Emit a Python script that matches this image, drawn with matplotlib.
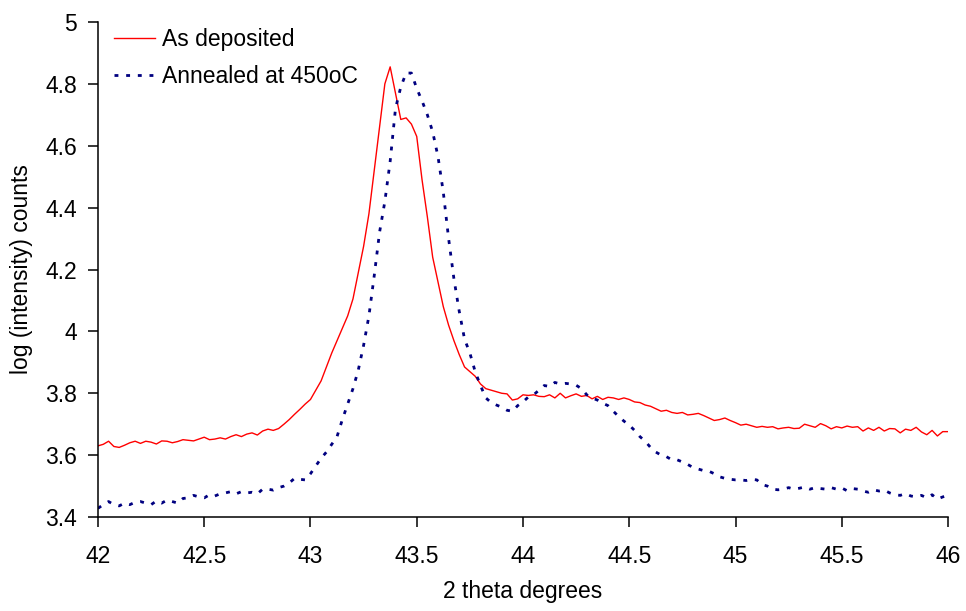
# Import modules
import numpy as np
import matplotlib
matplotlib.use("Agg")
import matplotlib.pyplot as plt
from matplotlib.ticker import FuncFormatter, MultipleLocator

plt.rcParams['font.family'] = ['Liberation Sans', 'DejaVu Sans']

# 2 theta values, one reading every 0.025 degrees from 42 to 46
two_theta = np.linspace(42, 46, 161)

# log (intensity) counts, as deposited (rows of 8 readings = 0.2 degrees)
as_deposited = [
    3.630, 3.635, 3.645, 3.628, 3.625, 3.632, 3.640, 3.645,
    3.638, 3.645, 3.642, 3.636, 3.646, 3.645, 3.640, 3.644,
    3.650, 3.648, 3.646, 3.652, 3.658, 3.650, 3.652, 3.656,
    3.652, 3.660, 3.666, 3.660, 3.668, 3.672, 3.665, 3.678,
    3.684, 3.680, 3.686, 3.700, 3.715, 3.732, 3.748, 3.765,
    3.780, 3.810, 3.840, 3.885, 3.930, 3.970, 4.010, 4.050,
    4.105, 4.190, 4.275, 4.380, 4.520, 4.660, 4.800, 4.855,
    4.770, 4.685, 4.690, 4.670, 4.630, 4.490, 4.370, 4.240,
    4.160, 4.080, 4.020, 3.970, 3.925, 3.885, 3.870, 3.855,
    3.830, 3.815, 3.810, 3.805, 3.800, 3.798, 3.778, 3.782,
    3.795, 3.793, 3.795, 3.790, 3.789, 3.795, 3.785, 3.800,
    3.785, 3.792, 3.798, 3.790, 3.793, 3.782, 3.790, 3.780,
    3.787, 3.785, 3.780, 3.785, 3.780, 3.772, 3.770, 3.762,
    3.758, 3.750, 3.742, 3.745, 3.738, 3.735, 3.738, 3.730,
    3.732, 3.735, 3.728, 3.720, 3.712, 3.715, 3.720, 3.712,
    3.705, 3.697, 3.700, 3.695, 3.690, 3.693, 3.690, 3.692,
    3.685, 3.688, 3.690, 3.686, 3.687, 3.700, 3.695, 3.690,
    3.702, 3.695, 3.685, 3.692, 3.688, 3.694, 3.690, 3.692,
    3.678, 3.688, 3.680, 3.690, 3.678, 3.686, 3.685, 3.672,
    3.684, 3.680, 3.690, 3.675, 3.666, 3.680, 3.662, 3.676,
    3.676,
]

# log (intensity) counts, annealed at 450oC
annealed = [
    3.428, 3.440, 3.450, 3.440, 3.436, 3.445, 3.440, 3.448,
    3.450, 3.445, 3.440, 3.452, 3.445, 3.455, 3.450, 3.445,
    3.460, 3.462, 3.470, 3.465, 3.462, 3.472, 3.468, 3.475,
    3.478, 3.482, 3.475, 3.482, 3.478, 3.480, 3.475, 3.490,
    3.490, 3.487, 3.495, 3.500, 3.510, 3.525, 3.522, 3.520,
    3.540, 3.565, 3.590, 3.610, 3.635, 3.660, 3.715, 3.765,
    3.815, 3.875, 3.955, 4.050, 4.180, 4.320, 4.420, 4.550,
    4.720, 4.790, 4.835, 4.835, 4.785, 4.745, 4.700, 4.645,
    4.565, 4.450, 4.300, 4.170, 4.065, 3.975, 3.930, 3.870,
    3.825, 3.785, 3.770, 3.762, 3.755, 3.745, 3.742, 3.760,
    3.772, 3.788, 3.795, 3.810, 3.825, 3.822, 3.835, 3.830,
    3.832, 3.830, 3.826, 3.815, 3.795, 3.785, 3.778, 3.768,
    3.760, 3.742, 3.725, 3.710, 3.697, 3.680, 3.660, 3.645,
    3.625, 3.610, 3.600, 3.595, 3.585, 3.585, 3.578, 3.570,
    3.560, 3.555, 3.550, 3.548, 3.540, 3.530, 3.525, 3.522,
    3.520, 3.520, 3.518, 3.522, 3.520, 3.505, 3.500, 3.490,
    3.488, 3.490, 3.495, 3.490, 3.493, 3.497, 3.490, 3.495,
    3.492, 3.490, 3.495, 3.490, 3.494, 3.485, 3.492, 3.490,
    3.484, 3.480, 3.488, 3.484, 3.487, 3.478, 3.472, 3.470,
    3.476, 3.468, 3.465, 3.470, 3.462, 3.472, 3.458, 3.465,
    3.470,
]

fig = plt.figure(figsize=(9.66, 6.11), dpi=100)
ax = fig.add_axes([0.1014, 0.1538, 0.88, 0.8102])

# Plot both scans
ax.plot(two_theta, as_deposited, color="#FF0000", linewidth=1.0, label="As deposited")
ax.plot(two_theta, annealed, color="#000080", linewidth=2.0,
        linestyle=(0, (1.4, 2.8)), dash_capstyle="butt", label="Annealed at 450oC")

# Axes limits and ticks
ax.set_xlim(42, 46)
ax.set_ylim(3.4, 5)
ax.xaxis.set_major_locator(MultipleLocator(0.5))
ax.yaxis.set_major_locator(MultipleLocator(0.2))
fmt = FuncFormatter(lambda v, pos: "%g" % round(v, 2))
ax.xaxis.set_major_formatter(fmt)
ax.yaxis.set_major_formatter(fmt)
ax.tick_params(axis="both", direction="out", length=7, width=1.1, labelsize=16.5, colors="black")
ax.tick_params(axis="x", pad=13)
ax.tick_params(axis="y", pad=8)

# Only left and bottom spines
ax.spines["top"].set_visible(False)
ax.spines["right"].set_visible(False)
ax.spines["left"].set_linewidth(1.1)
ax.spines["bottom"].set_linewidth(1.1)

ax.set_xlabel("2 theta degrees", fontsize=16.5, labelpad=9)
ax.set_ylabel("log (intensity) counts", fontsize=16.5, labelpad=9)

ax.legend(loc="upper left", bbox_to_anchor=(0.019, 0.988), frameon=False, fontsize=16.5,
          borderpad=0, borderaxespad=0, handlelength=1.8, handletextpad=0.3,
          labelspacing=0.6)

fig.savefig("out.png", dpi=100)
